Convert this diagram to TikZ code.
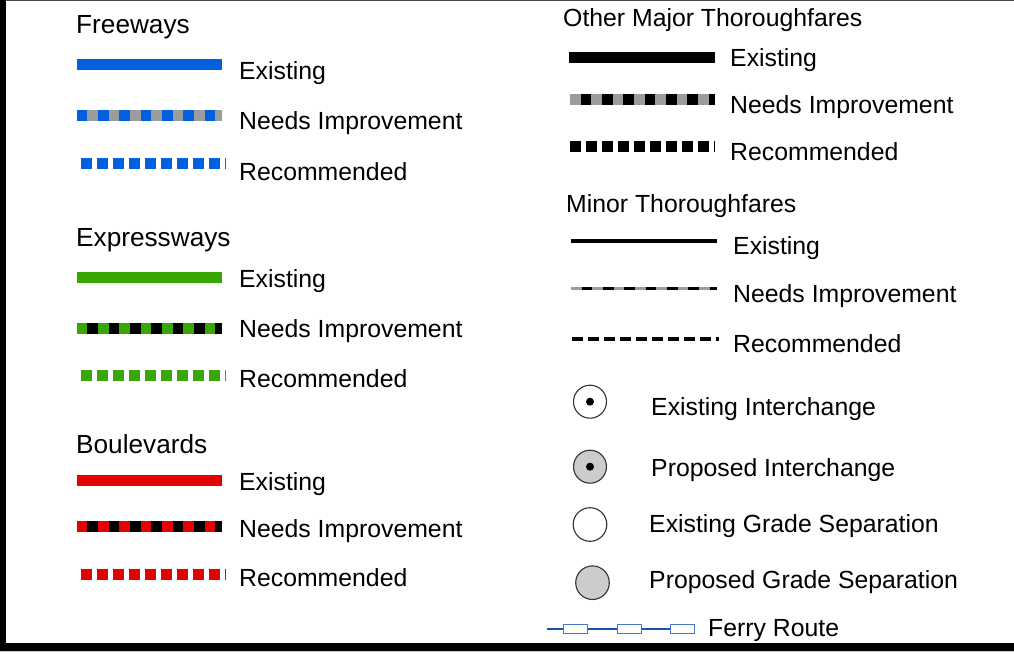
\documentclass[tikz,border=0pt]{standalone}
\usepackage{fontspec}
\setmainfont{Liberation Sans}
\definecolor{fwblue}{RGB}{0,96,224}
\definecolor{exgreen}{RGB}{56,168,0}
\definecolor{bvred}{RGB}{230,0,0}
\definecolor{midgray}{RGB}{156,156,156}
\definecolor{circfill}{RGB}{204,204,204}
\definecolor{circline}{RGB}{50,50,50}
\definecolor{ferryline}{RGB}{20,84,170}
\definecolor{ferrybox}{RGB}{70,120,200}
\definecolor{topline}{RGB}{70,70,70}
\begin{document}
\begin{tikzpicture}[x=1pt,y=-1pt,
 lbl/.style={anchor=base west,inner sep=0pt,font=\fontsize{24.8}{28}\selectfont},
 ttl/.style={anchor=base west,inner sep=0pt,font=\fontsize{26.2}{30}\selectfont},
 majorline/.style={line width=11pt,line cap=butt},
 altdash/.style={line width=11pt,line cap=butt,dash pattern=on 10.67pt off 10.67pt,dash phase=10.67pt},
 recdash/.style={line width=11pt,line cap=butt,dash pattern=on 11pt off 5pt},
 minorline/.style={line width=3.7pt,line cap=butt},
 minoralt/.style={line width=3.8pt,line cap=butt,dash pattern=on 10.67pt off 10.67pt,dash phase=10.67pt},
 minorrec/.style={line width=3.8pt,line cap=butt,dash pattern=on 11pt off 5pt},
 circ/.style={draw=circline,line width=1.1pt},
 ferrybx/.style={draw=ferrybox,fill=white,line width=0.9pt}
]
\useasboundingbox (0,0) rectangle (1014,655);
% frame
\fill[topline] (0,0) rectangle (1014,1.5);
\fill[black] (0,0) rectangle (6,651);
\fill[black] (0,643) rectangle (1014,651);
\fill[gray!40] (0,651) rectangle (1014,652);

% ---------- Freeways
\node[ttl] (fwt) at (76,34) {Freeways};
\draw[fwblue,majorline] (76.7,65) -- (222,65);
\node[lbl] (fwe) at (239,80) {Existing};
\draw[fwblue,majorline] (76.7,116) -- (222,116);
\draw[midgray,altdash] (76.7,116) -- (222,116);
\node[lbl] (fwn) at (239,130) {Needs Improvement};
\draw[fwblue,recdash] (80.7,163.5) -- (226,163.5);
\node[lbl] (fwr) at (239,181) {Recommended};

% ---------- Expressways
\node[ttl] (ext) at (76,246) {Expressways};
\draw[exgreen,majorline] (76.7,277) -- (222,277);
\node[lbl] (exe) at (239,287) {Existing};
\draw[exgreen,majorline] (76.7,328) -- (222,328);
\draw[black,altdash] (76.7,328) -- (222,328);
\node[lbl] (exn) at (239,337) {Needs Improvement};
\draw[exgreen,recdash] (80.7,375) -- (226,375);
\node[lbl] (exr) at (239,387) {Recommended};

% ---------- Boulevards
\node[ttl] (bvt) at (76,453) {Boulevards};
\draw[bvred,majorline] (76.7,480) -- (222,480);
\node[lbl] (bve) at (239,490) {Existing};
\draw[bvred,majorline] (76.7,526) -- (222,526);
\draw[black,altdash] (76.7,526) -- (222,526);
\node[lbl] (bvn) at (239,537) {Needs Improvement};
\draw[bvred,recdash] (80.7,574.5) -- (226,574.5);
\node[lbl] (bvr) at (239,586) {Recommended};

% ---------- Other Major Thoroughfares
\node[lbl] (omt) at (563,27) {Other Major Thoroughfares};
\draw[black,majorline] (569,57.5) -- (715,57.5);
\node[lbl] (ome) at (730,67) {Existing};
\draw[midgray,majorline] (570,99.5) -- (715,99.5);
\draw[black,altdash] (570,99.5) -- (715,99.5);
\node[lbl] (omn) at (730,114) {Needs Improvement};
\draw[black,recdash] (570,147) -- (715,147);
\node[lbl] (omr) at (730,161) {Recommended};

% ---------- Minor Thoroughfares
\node[lbl] (mit) at (566,212) {Minor Thoroughfares};
\draw[black,minorline] (571,240.7) -- (716.7,240.7);
\node[lbl] (mie) at (733,254) {Existing};
\draw[midgray,minorline] (571,288.5) -- (717,288.5);
\draw[black,minoralt] (571,288.5) -- (717,288.5);
\node[lbl] (min) at (733,302) {Needs Improvement};
\draw[black,minorrec] (572.3,339) -- (719,339);
\node[lbl] (mir) at (733,352) {Recommended};

% ---------- Interchanges / grade separations
\draw[circ,fill=white] (590,401.7) circle (16.5);
\fill[black] (590,401.7) circle (4);
\node[lbl] (eic) at (651,415) {Existing Interchange};
\draw[circ,fill=circfill] (590,466.7) circle (16.5);
\fill[black] (590,466.7) circle (4);
\node[lbl] (pic) at (651,476) {Proposed Interchange};
\draw[circ,fill=white] (590,524.5) circle (16.8);
\node[lbl] (egs) at (649,532) {Existing Grade Separation};
\draw[circ,fill=circfill] (592.5,582.7) circle (16.8);
\node[lbl] (pgs) at (649,588) {Proposed Grade Separation};

% ---------- Ferry route
\draw[ferryline,line width=2.2pt] (547,629) -- (695,629);
\draw[ferrybx] (563,624.5) rectangle (587,633.5);
\draw[ferrybx] (617,624.5) rectangle (641,633.5);
\draw[ferrybx] (670,624.5) rectangle (694,633.5);
\node[lbl] (fer) at (708,636) {Ferry Route};
\end{tikzpicture}
\end{document}
